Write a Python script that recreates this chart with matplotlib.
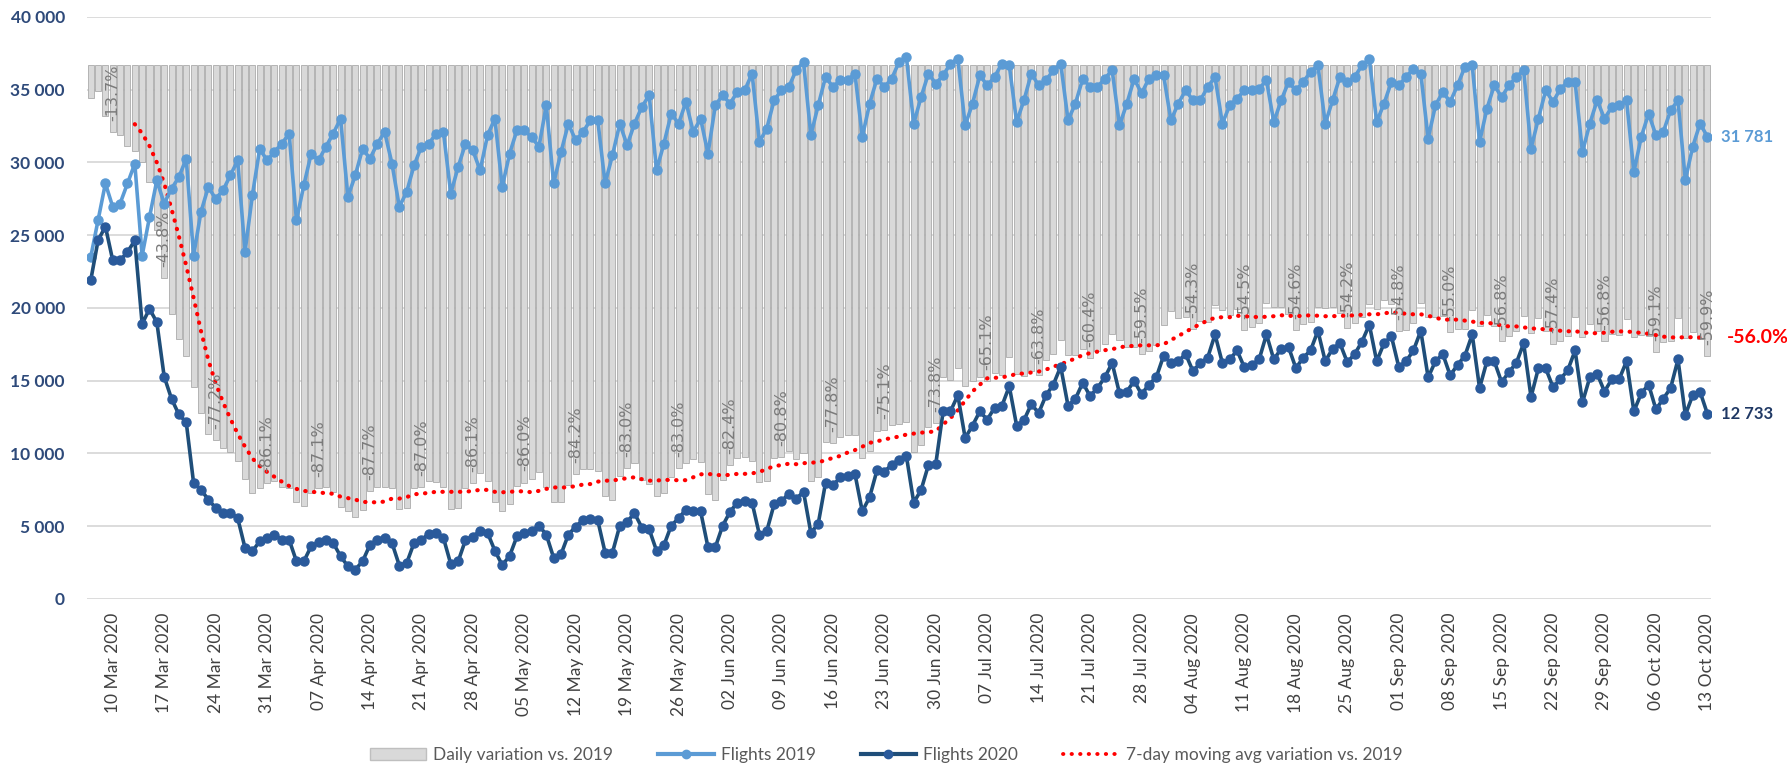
import numpy as np
import pandas as pd
import matplotlib
matplotlib.use("Agg")
import matplotlib.pyplot as plt
from matplotlib.patches import Patch
from matplotlib.lines import Line2D

plt.rcParams["font.family"] = ["Lato", "DejaVu Sans"]

# daily flights, 7 Mar 2020 .. 13 Oct 2020 (2019 aligned by weekday)
flights_2019 = [
    23490, 26020, 28560, 26950, 27180, 28560, 29920,
    23600, 26240, 28770, 27180, 28200, 28990, 30260,
    23600, 26590, 28310, 27510, 28080, 29110, 30140,
    23870, 27740, 30950, 30140, 30730, 31290, 31980,
    26020, 28430, 30600, 30140, 31080, 31980, 33010,
    27640, 29110, 30950, 30260, 31290, 32100, 29920,
    26950, 27980, 29800, 31080, 31290, 31980, 32100,
    27860, 29690, 31290, 30830, 29460, 31870, 33010,
    28310, 30600, 32210, 32210, 31750, 31080, 33930,
    28560, 30710, 32670, 31520, 32100, 32900, 32900,
    28560, 30490, 32670, 31180, 32670, 33820, 34620,
    29460, 31290, 33360, 32670, 34160, 32100, 33010,
    30600, 33930, 34620, 34050, 34850, 34960, 36110,
    31410, 32330, 34280, 34960, 35190, 36340, 36910,
    31870, 33930, 35880, 35190, 35650, 35650, 36110,
    31750, 34050, 35760, 35190, 35760, 36910, 37250,
    32670, 34500, 36110, 35420, 35990, 36800, 37140,
    32550, 34050, 35990, 35300, 35880, 36800, 36680,
    32780, 34270, 36110, 35300, 35650, 36340, 36800,
    32900, 34050, 35760, 35190, 35190, 35760, 36340,
    32550, 34050, 35760, 34750, 35760, 35990, 35990,
    32900, 34050, 34960, 34270, 34270, 35190, 35880,
    32670, 33930, 34390, 34960, 34960, 35070, 35650,
    32780, 34270, 35530, 34960, 35530, 36230, 36680,
    32670, 34270, 35880, 35530, 35880, 36680, 37100,
    32780, 34050, 35530, 35300, 35880, 36450, 36110,
    31640, 33930, 34850, 34160, 35300, 36570, 36680,
    31410, 33700, 35300, 34500, 35300, 35880, 36340,
    30950, 33010, 34960, 34160, 35070, 35530, 35530,
    30720, 32670, 34270, 33010, 33820, 33930, 34270,
    29340, 31750, 33360, 31870, 32100, 33590, 34270,
    28790, 31080, 32670, 31781,
]

flights_2020 = [
    21890, 24640, 25600, 23270, 23270, 23840, 24640,
    18910, 19940, 19020, 15280, 13760, 12680, 12150,
    7980, 7520, 6830, 6270, 5920, 5920, 5570,
    3510, 3280, 3970, 4190, 4430, 4080, 4080,
    2590, 2590, 3620, 3890, 4080, 3850, 2940,
    2250, 2020, 2590, 3720, 4080, 4200, 3850,
    2300, 2470, 3850, 4040, 4500, 4550, 4200,
    2400, 2580, 4050, 4290, 4670, 4550, 3320,
    2330, 2950, 4300, 4510, 4670, 5040, 4420,
    2830, 3070, 4420, 4980, 5410, 5530, 5410,
    3190, 3190, 5040, 5300, 5900, 4910, 4790,
    3320, 3690, 5040, 5550, 6140, 6020, 6020,
    3560, 3560, 5040, 5990, 6630, 6760, 6630,
    4420, 4670, 6510, 6710, 7250, 6880, 7370,
    4550, 5160, 7990, 7810, 8350, 8480, 8600,
    6020, 7000, 8850, 8760, 9210, 9580, 9830,
    6630, 7490, 9210, 9280, 12900, 12900, 14000,
    11060, 11920, 12900, 12320, 13150, 13270, 14620,
    11920, 12290, 13390, 12780, 14000, 14740, 15970,
    13270, 13760, 14860, 13940, 14500, 15230, 16220,
    14130, 14250, 14990, 14070, 14740, 15230, 16710,
    16220, 16340, 16830, 15660, 16220, 16580, 18180,
    16220, 16460, 17080, 15910, 16090, 16460, 18180,
    16460, 17200, 17320, 15870, 16580, 17080, 18430,
    16340, 17200, 17570, 16270, 16830, 17690, 18850,
    16340, 17570, 18060, 15960, 16340, 17080, 18430,
    15230, 16340, 16830, 15370, 16090, 16710, 18180,
    14500, 16340, 16340, 14900, 15600, 16220, 17570,
    13880, 15850, 15850, 14550, 15110, 15720, 17080,
    13510, 15230, 15480, 14260, 15110, 15110, 16340,
    12900, 14130, 14740, 13030, 13760, 14500, 16460,
    12650, 14000, 14250, 12733,
]

# daily variation vs. 2019, in %
daily_var = [
    -6.8, -5.3, -10.4, -13.7, -14.4, -16.5, -17.6,
    -19.9, -24.0, -33.9, -43.8, -51.2, -56.3, -59.8,
    -66.2, -71.7, -75.9, -77.2, -78.9, -79.7, -81.5,
    -85.3, -88.2, -87.2, -86.1, -85.6, -87.0, -87.2,
    -90.0, -90.9, -88.2, -87.1, -86.9, -88.0, -91.1,
    -91.9, -93.1, -91.6, -87.7, -87.0, -86.9, -87.1,
    -91.5, -91.2, -87.1, -87.0, -85.6, -85.8, -86.9,
    -91.4, -91.3, -87.1, -86.1, -84.1, -85.7, -89.9,
    -91.8, -90.4, -86.7, -86.0, -85.3, -83.8, -87.0,
    -90.1, -90.0, -86.5, -84.2, -83.1, -83.2, -83.6,
    -88.8, -89.5, -84.6, -83.0, -81.9, -85.5, -86.2,
    -88.7, -88.2, -84.9, -83.0, -82.0, -81.2, -81.8,
    -88.4, -89.5, -85.4, -82.4, -81.0, -80.7, -81.6,
    -85.9, -85.6, -81.0, -80.8, -79.4, -81.1, -80.0,
    -85.7, -84.8, -77.7, -77.8, -76.6, -76.2, -76.2,
    -81.0, -79.4, -75.3, -75.1, -74.2, -74.0, -73.6,
    -79.7, -78.3, -74.5, -73.8, -64.2, -64.9, -62.3,
    -66.0, -65.0, -64.2, -65.1, -63.4, -63.9, -60.1,
    -63.6, -64.1, -62.9, -63.8, -60.7, -59.4, -56.6,
    -59.7, -59.6, -58.4, -60.4, -58.8, -57.4, -55.4,
    -56.6, -58.1, -58.1, -59.5, -58.8, -57.7, -53.6,
    -50.7, -52.0, -51.9, -54.3, -52.7, -52.9, -49.3,
    -50.4, -51.5, -50.3, -54.5, -54.0, -53.1, -49.0,
    -49.8, -49.8, -51.3, -54.6, -53.3, -52.9, -49.8,
    -50.0, -49.8, -51.0, -54.2, -53.1, -51.8, -49.2,
    -50.2, -48.4, -49.2, -54.8, -54.5, -53.1, -49.0,
    -51.9, -51.8, -51.7, -55.0, -54.4, -54.3, -50.4,
    -53.8, -51.5, -53.7, -56.8, -55.8, -54.8, -51.7,
    -55.2, -52.0, -54.7, -57.4, -56.9, -55.8, -51.9,
    -56.0, -53.4, -54.8, -56.8, -55.3, -55.5, -52.3,
    -56.0, -55.5, -55.8, -59.1, -57.1, -56.8, -52.0,
    -56.1, -55.0, -56.4, -59.9,
]

# 7-day moving average variation, from 13 Mar 2020 on
ma_var = [
    -12.1, -14.0, -16.6, -20.0, -24.3, -29.6, -35.2,
    -41.3, -47.9, -54.7, -60.7, -65.5, -69.4, -72.8,
    -75.9, -78.6, -81.0, -82.6, -83.8, -84.8, -85.8,
    -86.7, -87.3, -87.7, -87.9, -88.0, -88.2, -88.3,
    -88.9, -89.2, -89.5, -90.0, -90.0, -90.1, -89.9,
    -89.3, -89.3, -89.0, -88.4, -88.3, -88.1, -87.9,
    -87.9, -87.9, -87.9, -87.9, -87.7, -87.5, -87.5,
    -87.9, -88.0, -87.9, -87.8, -87.8, -88.0, -87.7,
    -87.3, -87.0, -87.0, -87.0, -86.7, -86.4, -86.3,
    -85.8, -85.6, -85.6, -85.3, -85.1, -84.9, -85.3,
    -85.6, -85.6, -85.4, -85.5, -85.5, -85.5, -84.9,
    -84.3, -84.2, -84.4, -84.5, -84.4, -84.2, -84.2,
    -84.1, -83.8, -83.2, -82.6, -82.4, -82.1, -82.2,
    -82.0, -81.9, -81.8, -81.4, -80.9, -80.5, -79.8,
    -79.3, -78.6, -77.8, -77.5, -77.1, -76.8, -76.5,
    -76.1, -75.9, -75.7, -75.6, -75.4, -74.0, -72.7,
    -71.1, -69.1, -67.2, -65.8, -64.5, -64.4, -64.3,
    -64.0, -63.6, -63.5, -63.3, -63.1, -62.7, -62.1,
    -61.6, -61.0, -60.4, -59.7, -59.3, -59.0, -58.7,
    -58.5, -58.1, -57.9, -57.8, -57.7, -57.7, -57.7,
    -57.5, -56.6, -55.8, -54.9, -54.1, -53.3, -52.6,
    -52.0, -51.9, -51.9, -51.6, -51.7, -51.8, -51.9,
    -51.8, -51.7, -51.5, -51.6, -51.7, -51.6, -51.5,
    -51.6, -51.7, -51.7, -51.6, -51.6, -51.5, -51.4,
    -51.3, -51.3, -51.1, -50.9, -51.0, -51.2, -51.3,
    -51.3, -51.6, -52.0, -52.4, -52.4, -52.4, -52.6,
    -52.8, -53.1, -53.0, -53.3, -53.6, -53.8, -53.8,
    -54.0, -54.2, -54.3, -54.4, -54.5, -54.7, -54.8,
    -54.8, -55.0, -55.2, -55.2, -55.1, -54.9, -54.8,
    -54.9, -54.9, -55.2, -55.3, -55.6, -55.9, -56.1,
    -56.0, -56.1, -56.0, -56.1, -56.0,
]

dates = pd.date_range("2020-03-07", periods=len(flights_2019), freq="D")
x = np.arange(len(dates))
ma_start = len(x) - len(ma_var)

fig = plt.figure(figsize=(17.87, 7.75), dpi=100)
ax = fig.add_axes([0.0487, 0.2271, 0.9088, 0.751])

# base axis: grid + ticks
ax.set_xlim(-0.5, len(x) - 0.5)
ax.set_ylim(0, 40000)
yt = list(range(0, 40001, 5000))
ax.set_yticks(yt)
ax.set_yticklabels([f"{v:,}".replace(",", " ") for v in yt], fontsize=12.5,
                   color="#2E4A7A", fontweight="bold")
ax.grid(axis="y", color="#D9D9D9", lw=1.3)
ax.set_axisbelow(True)
for s in ax.spines.values():
    s.set_visible(False)
ax.tick_params(axis="y", length=0, pad=16)
ax.tick_params(axis="x", length=0, pad=10)
ax.set_xticks(x[3::7])
ax.set_xticklabels([d.strftime("%d %b %Y") for d in dates[3::7]], rotation=90,
                   fontsize=12.5, color="#404040")

# percentage axis: bars + moving average
axp = ax.twinx()
axp.set_ylim(-110, 10)
axp.set_axis_off()
axp.bar(x, daily_var, width=0.82, color="#D9D9D9", edgecolor="#ABABAB", linewidth=0.6)
axp.plot(x[ma_start:], ma_var, color="#FF0000", lw=3.0, linestyle=(0, (0.1, 2.0)),
         dash_capstyle="round")
for i in range(3, len(x), 7):
    axp.annotate(f"{daily_var[i]:.1f}%", (i, daily_var[i]), xytext=(0, 8),
                 textcoords="offset points", rotation=90, ha="center", va="bottom",
                 fontsize=11.5, color="#7A7A7A", family=["DejaVu Sans"])
axp.annotate(f"{ma_var[-1]:.1f}%", (x[-1], ma_var[-1]), xytext=(14, 0),
             textcoords="offset points", ha="left", va="center",
             fontsize=14, fontweight="bold", color="#FF0000")

# flights axis: the two lines on top
axf = ax.twinx()
axf.set_ylim(0, 40000)
axf.set_axis_off()
axf.plot(x, flights_2019, color="#5B9BD5", lw=2.6, marker="o", ms=6.5)
axf.plot(x, flights_2020, color="#1F4E79", lw=2.6, marker="o", ms=6.5,
         mfc="#2A5A9B", mec="#2A5A9B")
axf.annotate(f"{flights_2019[-1]:,}".replace(",", " "), (x[-1], flights_2019[-1]),
             xytext=(10, 0), textcoords="offset points", ha="left", va="center",
             fontsize=12, fontweight="bold", color="#5B9BD5")
axf.annotate(f"{flights_2020[-1]:,}".replace(",", " "), (x[-1], flights_2020[-1]),
             xytext=(10, 0), textcoords="offset points", ha="left", va="center",
             fontsize=12, fontweight="bold", color="#1F3864")

handles = [
    Patch(facecolor="#D9D9D9", edgecolor="#BFBFBF"),
    Line2D([], [], color="#5B9BD5", lw=3, marker="o", ms=6),
    Line2D([], [], color="#1F4E79", lw=3, marker="o", ms=6, mfc="#2A5A9B", mec="#2A5A9B"),
    Line2D([], [], color="#FF0000", lw=2.8, linestyle=(0, (0.1, 2.1)), dash_capstyle="round"),
]
labels = ["Daily variation vs. 2019", "Flights 2019", "Flights 2020",
          "7-day moving avg variation vs. 2019"]
fig.legend(handles, labels, loc="lower center", bbox_to_anchor=(0.496, -0.005), ncol=4,
           frameon=False, fontsize=12.5, handlelength=3.2, columnspacing=2.6,
           handletextpad=0.4, labelcolor="#595959")

fig.savefig("out.png", dpi=100)
